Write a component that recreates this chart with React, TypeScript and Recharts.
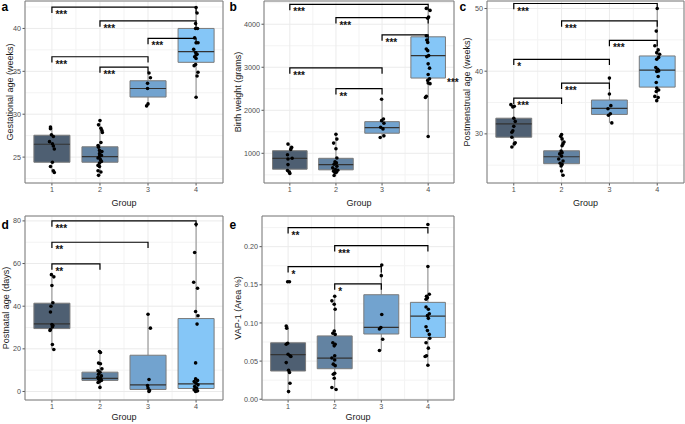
import React from "react";
import { ComposedChart, XAxis, YAxis, CartesianGrid, Scatter, ReferenceArea, ReferenceLine } from "recharts";

type Box = [number, number, number, number, number]; // lower whisker, q1, median, q3, upper whisker
type Sig = [number, number, number, string]; // from group, to group, bracket height, label

const groups = [1, 2, 3, 4];
const groupFills = ["#4e5f72", "#6383a2", "#72a3cf", "#85c6f7"];
const xDomain = [0.44, 4.56];

// a: gestational age (weeks)
const gestTicks = [25, 30, 35, 40];
const gestBoxes: Box[] = [
  [23.2, 24.4, 26.5, 27.55, 28.5],
  [22.87, 24.4, 25.05, 26.2, 29.26],
  [30.97, 32.0, 33.0, 33.9, 34.8],
  [31.98, 36.05, 37.3, 40.0, 42.44],
];
const gestPoints = [
  [0.97, 28.5], [0.97, 28.3], [0.99, 27.6], [1.03, 27.4], [0.95, 26.8], [1.01, 26.55], [1.03, 26.3], [1.05, 25.95], [1.01, 24.4], [0.97, 23.9], [1.03, 23.4], [1.05, 23.2],
  [2.0, 29.26], [1.97, 28.76], [2.02, 28.37], [2.04, 28.1], [2.05, 27.87], [2.02, 26.7], [1.96, 26.36], [1.97, 26.16], [1.99, 25.78], [2.04, 25.66], [1.99, 25.4], [2.03, 25.2], [1.99, 25.08], [1.96, 24.9], [2.01, 24.7], [2.03, 24.5], [1.99, 24.3], [1.96, 24.03], [1.99, 23.9], [1.96, 23.4], [2.02, 23.26], [1.97, 22.87],
  [3.02, 34.8], [3.05, 34.26], [2.99, 33.6], [2.99, 33.0], [3.0, 31.2], [2.97, 30.97],
  [4.0, 42.44], [4.02, 41.8], [3.99, 40.58], [3.99, 40.0], [4.03, 40.0], [3.97, 38.9], [4.0, 38.33], [4.04, 38.33], [3.95, 37.56], [3.99, 37.2], [4.02, 37.0], [4.0, 36.9], [3.97, 36.7], [4.0, 36.5], [3.99, 35.8], [3.96, 35.66], [4.04, 34.9], [4.02, 34.46], [4.0, 31.98],
];
const gestSig: Sig[] = [
  [1, 4, 42.48, "***"], [2, 4, 40.89, "***"], [3, 4, 38.84, "***"], [1, 3, 36.7, "***"], [2, 3, 35.5, "***"],
];

// b: birth weight (grams)
const bwTicks = [1000, 2000, 3000, 4000];
const bwBoxes: Box[] = [
  [531, 631, 884, 1061, 1214],
  [485, 616, 738, 884, 1444],
  [1368, 1467, 1598, 1736, 2258],
  [1391, 2749, 3271, 3708, 4368],
];
const bwPoints = [
  [0.96, 1214], [1.04, 1137], [1.02, 1091], [0.95, 968], [1.05, 884], [0.96, 869], [0.96, 738], [0.95, 600], [0.99, 562], [1.0, 531],
  [2.0, 1444], [2.02, 1330], [1.95, 1237], [2.0, 1107], [2.02, 892], [1.98, 800], [2.01, 777], [1.96, 746], [2.02, 700], [1.93, 662], [1.99, 623], [2.04, 608], [1.95, 585], [2.01, 562], [1.98, 547], [1.96, 485],
  [2.99, 2258], [3.03, 1797], [2.99, 1759], [3.04, 1698], [2.97, 1606], [3.02, 1567], [3.04, 1406], [2.96, 1368],
  [3.96, 4368], [4.04, 4322], [4.01, 4169], [3.99, 4138], [3.96, 3731], [3.97, 3632], [3.99, 3578], [3.96, 3424], [3.99, 3386], [4.01, 3271], [3.97, 3248], [4.0, 3079], [4.03, 2979], [4.0, 2833], [4.03, 2733], [3.99, 2695], [4.0, 2634], [4.04, 2619], [3.96, 2327], [3.94, 2296], [4.0, 1391],
];
const bwSig: Sig[] = [
  [1, 4, 4460, "***"], [2, 4, 4153, "***"], [3, 4, 3754, "***"], [1, 3, 2987, "***"], [2, 3, 2503, "**"],
];

// c: postmenstrual age (weeks)
const pmaTicks = [30, 40, 50];
const pmaBoxes: Box[] = [
  [27.9, 29.47, 31.6, 32.5, 34.66],
  [23.4, 25.24, 26.35, 27.3, 29.9],
  [31.75, 33.1, 34.07, 35.4, 38.9],
  [35.3, 37.46, 40.16, 42.43, 50.0],
];
const pmaPoints = [
  [0.94, 34.66], [1.01, 34.4], [0.98, 34.3], [1.0, 32.5], [1.03, 31.99], [1.0, 31.2], [0.98, 30.5], [0.96, 30.26], [0.96, 29.47], [1.03, 28.57], [1.01, 28.4], [0.96, 27.9],
  [2.0, 29.9], [1.98, 29.6], [2.01, 29.2], [2.05, 28.7], [2.03, 28.4], [2.01, 28.1], [1.99, 27.25], [2.01, 27.0], [1.96, 26.8], [2.0, 26.45], [1.94, 26.0], [2.03, 25.66], [1.97, 25.3], [2.01, 25.13], [1.99, 24.87], [2.0, 24.07], [2.03, 23.4],
  [3.0, 38.9], [3.0, 36.35], [3.03, 34.5], [2.97, 34.0], [3.02, 33.2], [2.98, 32.96], [3.05, 31.75],
  [4.0, 50.0], [3.98, 46.4], [3.95, 44.07], [4.02, 43.4], [3.99, 42.96], [4.05, 42.7], [4.03, 42.2], [3.99, 41.9], [3.97, 40.58], [4.01, 40.3], [4.03, 40.05], [3.99, 39.95], [4.02, 39.15], [3.98, 38.2], [3.99, 37.3], [4.03, 37.0], [3.98, 36.77], [3.95, 35.98], [4.02, 35.8], [3.99, 35.3],
];
const pmaSig: Sig[] = [
  [1, 4, 50.8, "***"], [2, 4, 48.04, "***"], [3, 4, 44.92, "***"], [1, 3, 41.9, "*"], [2, 3, 38.1, "***"], [1, 2, 35.7, "***"],
];

// d: postnatal age (days)
const pnaTicks = [0, 20, 40, 60, 80];
const pnaBoxes: Box[] = [
  [19.7, 29.5, 31.7, 41.4, 54.8],
  [1.9, 5.2, 6.1, 9.06, 18.75],
  [0, 0.94, 3.1, 17.0, 36.25],
  [0, 1.4, 3.6, 34.2, 78.4],
];
const pnaPoints = [
  [0.99, 54.8], [1.04, 53.75], [1.0, 49.7], [1.02, 41.6], [0.98, 40.0], [0.97, 37.3], [1.0, 31.4], [1.02, 30.9], [1.01, 30.3], [0.97, 29.1], [0.96, 28.6], [1.01, 22.0], [1.04, 19.7],
  [1.99, 18.75], [2.01, 18.3], [1.97, 13.3], [2.01, 13.0], [2.04, 10.6], [1.96, 9.7], [2.0, 9.06], [1.97, 8.1], [2.03, 7.3], [1.96, 6.7], [2.01, 6.25], [1.97, 5.8], [2.03, 5.2], [1.99, 4.7], [1.96, 4.2], [2.0, 1.9],
  [3.0, 36.25], [3.05, 29.7], [3.02, 5.6], [2.99, 2.8], [3.0, 1.6], [3.03, 0.5], [3.02, 0.0],
  [4.0, 78.4], [3.97, 65.2], [3.95, 51.25], [4.03, 48.4], [3.99, 37.5], [4.04, 35.5], [4.02, 31.6], [3.99, 13.4], [3.99, 5.9], [4.03, 5.2], [3.96, 4.7], [4.0, 3.9], [4.04, 3.1], [3.97, 2.3], [4.01, 1.56], [3.96, 0.8], [4.03, 0.3], [3.99, 0.0],
];
const pnaSig: Sig[] = [[1, 4, 80, "***"], [1, 3, 70, "**"], [1, 2, 59.8, "**"]];

// e: VAP-1 (area %)
const vapTicks = [0, 0.05, 0.1, 0.15, 0.2];
const vapBoxes: Box[] = [
  [0.01, 0.037, 0.0585, 0.074, 0.096],
  [0.0127, 0.04, 0.054, 0.083, 0.135],
  [0.0638, 0.0855, 0.0943, 0.137, 0.176],
  [0.0445, 0.081, 0.109, 0.127, 0.174],
];
const vapPoints = [
  [0.99, 0.154], [1.03, 0.154], [0.96, 0.096], [0.97, 0.093], [0.99, 0.0734], [0.96, 0.072], [1.0, 0.059], [1.04, 0.057], [1.06, 0.056], [0.96, 0.048], [1.01, 0.038], [1.03, 0.035], [1.04, 0.021], [1.01, 0.01],
  [2.0, 0.135], [1.94, 0.129], [1.99, 0.1245], [2.01, 0.118], [1.99, 0.0895], [1.96, 0.0865], [2.01, 0.085], [1.96, 0.074], [2.01, 0.072], [1.99, 0.07], [2.0, 0.057], [1.94, 0.054], [2.0, 0.0515], [1.97, 0.046], [2.01, 0.044], [2.0, 0.034], [1.97, 0.0328], [1.99, 0.0275], [1.94, 0.0153], [2.03, 0.0127],
  [3.01, 0.176], [3.0, 0.162], [3.01, 0.111], [2.99, 0.094], [2.96, 0.092], [3.03, 0.0786], [2.96, 0.0638],
  [4.0, 0.229], [4.0, 0.174], [4.03, 0.1376], [3.97, 0.135], [3.99, 0.133], [3.96, 0.131], [3.96, 0.121], [4.01, 0.118], [4.03, 0.112], [3.99, 0.1096], [4.01, 0.106], [3.96, 0.095], [3.99, 0.09], [4.03, 0.085], [4.04, 0.08], [3.96, 0.074], [4.01, 0.067], [3.97, 0.057], [3.94, 0.056], [4.0, 0.0445],
];
const vapSig: Sig[] = [[1, 4, 0.2249, "**"], [2, 4, 0.2013, "***"], [1, 3, 0.1738, "*"], [2, 3, 0.1511, "*"]];

const tickStyle = { fontSize: 7.2, fill: "#4d4d4d" };
const dot = (p: any) => <circle cx={p.cx} cy={p.cy} r={1.8} fill="#000" />;
const noShape = () => <g />;
const starText = (p: any) => (
  <text x={p.cx + 3.5} y={p.cy + 11} fontSize={10} fontWeight="bold" fill="#111">
    {p.payload.label}
  </text>
);

function BoxPanel(props: any) {
  const { left, top, width, height, yWidth, xHeight, mTop, mRight, yDomain, yTicks, yMinor, fmt, yLabel, yLabelX, groupDy, boxes, points, sigs } = props;
  const tip = (yDomain[1] - yDomain[0]) * 0.032;
  const half = 0.375;
  return (
    <div style={{ position: "absolute", left, top }}>
      <ComposedChart width={width} height={height} margin={{ top: mTop, right: mRight, bottom: 0, left: 0 }}>
        {yMinor.map((v: number) => (
          <ReferenceLine key={"my" + v} y={v} stroke="#f3f3f3" zIndex={-150} />
        ))}
        {[1.5, 2.5, 3.5].map((v) => (
          <ReferenceLine key={"mx" + v} x={v} stroke="#f3f3f3" zIndex={-150} />
        ))}
        <CartesianGrid stroke="#ebebeb" />
        <XAxis
          type="number"
          dataKey="x"
          domain={xDomain}
          ticks={groups}
          height={xHeight}
          axisLine={false}
          tickLine={{ stroke: "#555" }}
          tickSize={2.5}
          tickMargin={1.5}
          tick={tickStyle}
          label={(lp: any) => (
            <text x={lp.viewBox.x + lp.viewBox.width / 2} y={lp.viewBox.y + groupDy} textAnchor="middle" dominantBaseline="central" fontSize={9} fill="#1a1a1a">
              Group
            </text>
          )}
        />
        <YAxis
          type="number"
          dataKey="y"
          domain={yDomain}
          ticks={yTicks}
          width={yWidth}
          axisLine={false}
          tickLine={{ stroke: "#555" }}
          tickSize={2.5}
          tickMargin={1.5}
          tick={tickStyle}
          tickFormatter={fmt}
          label={(lp: any) => (
            <text
              transform={`translate(${yLabelX},${lp.viewBox.y + lp.viewBox.height / 2}) rotate(-90)`}
              textAnchor="middle"
              dominantBaseline="central"
              fontSize={9}
              fill="#1a1a1a"
            >
              {yLabel}
            </text>
          )}
        />
        {boxes.map((b: Box, i: number) => (
          <ReferenceLine key={"wl" + i} segment={[{ x: groups[i], y: b[0] }, { x: groups[i], y: b[1] }]} stroke="#8a8a8a" zIndex={90} />
        ))}
        {boxes.map((b: Box, i: number) => (
          <ReferenceLine key={"wh" + i} segment={[{ x: groups[i], y: b[3] }, { x: groups[i], y: b[4] }]} stroke="#8a8a8a" zIndex={90} />
        ))}
        {boxes.map((b: Box, i: number) => (
          <ReferenceArea
            key={"bx" + i}
            x1={groups[i] - half}
            x2={groups[i] + half}
            y1={b[1]}
            y2={b[3]}
            fill={groupFills[i]}
            fillOpacity={1}
            stroke="#7a7a7a"
            strokeWidth={1}
            zIndex={100}
          />
        ))}
        {boxes.map((b: Box, i: number) => (
          <ReferenceLine key={"md" + i} segment={[{ x: groups[i] - half, y: b[2] }, { x: groups[i] + half, y: b[2] }]} stroke="#333" strokeWidth={1.2} zIndex={110} />
        ))}
        <Scatter data={points.map((p: number[]) => ({ x: p[0], y: p[1] }))} dataKey="y" shape={dot} isAnimationActive={false} zIndex={600} />
        {sigs.map((s: Sig, i: number) => (
          <Scatter
            key={"sg" + i}
            data={[
              { x: s[0], y: s[2] - tip },
              { x: s[0], y: s[2] },
              { x: s[1], y: s[2] },
              { x: s[1], y: s[2] - tip },
            ]}
            dataKey="y"
            line={{ stroke: "#000", strokeWidth: 1.2 }}
            shape={noShape}
            isAnimationActive={false}
            zIndex={700}
          />
        ))}
        <Scatter
          data={sigs.map((s: Sig) => ({ x: s[0], y: s[2], label: s[3] }))}
          dataKey="y"
          shape={starText}
          isAnimationActive={false}
          zIndex={710}
        />
        <ReferenceArea x1={xDomain[0]} x2={xDomain[1]} y1={yDomain[0]} y2={yDomain[1]} fill="none" stroke="#7a7a7a" strokeWidth={1} zIndex={800} />
      </ComposedChart>
    </div>
  );
}

const letters = [
  ["a", 1.5, 11],
  ["b", 229.5, 11],
  ["c", 459.5, 11],
  ["d", 1.5, 228.5],
  ["e", 229.5, 228.5],
];

export default function App() {
  return (
    <div style={{ position: "absolute", left: 0, top: 0, width: 685, height: 424, background: "#fff", fontFamily: "'Liberation Sans', Arial, sans-serif", overflow: "hidden" }}>
      <BoxPanel left={0} top={0} width={230} height={215} yWidth={25} xHeight={32} mTop={1} mRight={7}
        yDomain={[21.98, 43.2]} yTicks={gestTicks} yMinor={[22.5, 27.5, 32.5, 37.5, 42.5]} fmt={(v: number) => `${v}`}
        yLabel="Gestational age (weeks)" yLabelX={9.5} groupDy={19.5} boxes={gestBoxes} points={gestPoints} sigs={gestSig} />
      <BoxPanel left={230} top={0} width={230} height={215} yWidth={34} xHeight={32} mTop={1} mRight={6}
        yDomain={[310, 4540]} yTicks={bwTicks} yMinor={[500, 1500, 2500, 3500, 4500]} fmt={(v: number) => `${v}`}
        yLabel="Birth weight (grams)" yLabelX={8} groupDy={19.5} boxes={bwBoxes} points={bwPoints} sigs={bwSig} />
      <BoxPanel left={460} top={0} width={225} height={215} yWidth={27} xHeight={32} mTop={1} mRight={1}
        yDomain={[22.16, 51.2]} yTicks={pmaTicks} yMinor={[25, 35, 45]} fmt={(v: number) => `${v}`}
        yLabel="Postmenstrual age (weeks)" yLabelX={7.3} groupDy={19.5} boxes={pmaBoxes} points={pmaPoints} sigs={pmaSig} />
      <BoxPanel left={0} top={215} width={230} height={209} yWidth={25} xHeight={24} mTop={1} mRight={7}
        yDomain={[-4.0, 82.3]} yTicks={pnaTicks} yMinor={[10, 30, 50, 70]} fmt={(v: number) => `${v}`}
        yLabel="Postnatal age (days)" yLabelX={6} groupDy={17.3} boxes={pnaBoxes} points={pnaPoints} sigs={pnaSig} />
      <BoxPanel left={230} top={215} width={230} height={209} yWidth={32} xHeight={24} mTop={1} mRight={6}
        yDomain={[-0.001, 0.2402]} yTicks={vapTicks} yMinor={[0.025, 0.075, 0.125, 0.175, 0.225]} fmt={(v: number) => v.toFixed(2)}
        yLabel="VAP-1 (Area %)" yLabelX={8.3} groupDy={17.3} boxes={vapBoxes} points={vapPoints} sigs={vapSig} />
      <svg width={685} height={424} style={{ position: "absolute", left: 0, top: 0, pointerEvents: "none" }}>
        {letters.map(([t, x, y]) => (
          <text key={t as string} x={x as number} y={y as number} fontSize={12} fontWeight="bold" fill="#000">
            {t}
          </text>
        ))}
        <text x={447} y={86} fontSize={10} fontWeight="bold" fill="#111">***</text>
      </svg>
    </div>
  );
}
